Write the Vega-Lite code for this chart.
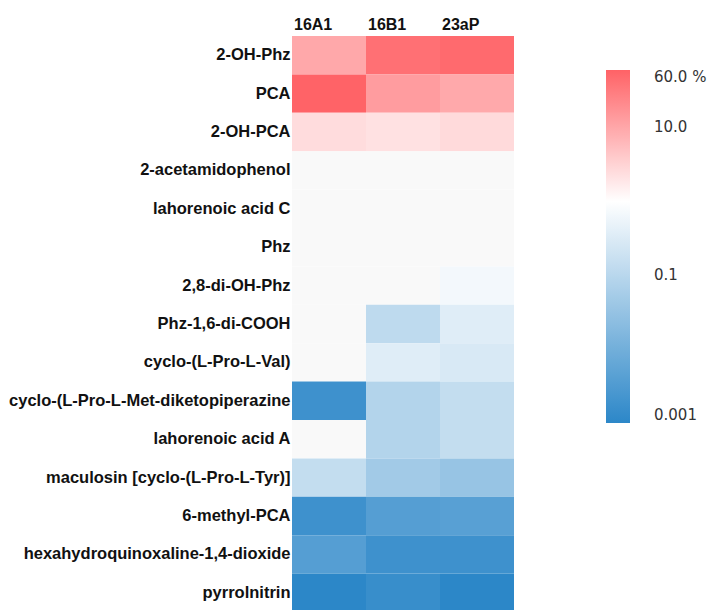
{
  "$schema": "https://vega.github.io/schema/vega-lite/v6.json",
  "autosize": {"type": "none"},
  "padding": {"left": 292, "top": 36, "right": 196, "bottom": 0},
  "width": 222,
  "height": 576,
  "background": "white",
  "data": {
    "values": [
      {"compound": "2-OH-Phz", "strain": "16A1", "pct": 9.67},
      {"compound": "2-OH-Phz", "strain": "16B1", "pct": 41.7},
      {"compound": "2-OH-Phz", "strain": "23aP", "pct": 48.7},
      {"compound": "PCA", "strain": "16A1", "pct": 58.5},
      {"compound": "PCA", "strain": "16B1", "pct": 13.2},
      {"compound": "PCA", "strain": "23aP", "pct": 9.5},
      {"compound": "2-OH-PCA", "strain": "16A1", "pct": 2.49},
      {"compound": "2-OH-PCA", "strain": "16B1", "pct": 2.19},
      {"compound": "2-OH-PCA", "strain": "23aP", "pct": 2.63},
      {"compound": "2-acetamidophenol", "strain": "16A1", "pct": 0},
      {"compound": "2-acetamidophenol", "strain": "16B1", "pct": 0},
      {"compound": "2-acetamidophenol", "strain": "23aP", "pct": 0},
      {"compound": "lahorenoic acid C", "strain": "16A1", "pct": 0},
      {"compound": "lahorenoic acid C", "strain": "16B1", "pct": 0},
      {"compound": "lahorenoic acid C", "strain": "23aP", "pct": 0},
      {"compound": "Phz", "strain": "16A1", "pct": 0},
      {"compound": "Phz", "strain": "16B1", "pct": 0},
      {"compound": "Phz", "strain": "23aP", "pct": 0},
      {"compound": "2,8-di-OH-Phz", "strain": "16A1", "pct": 0},
      {"compound": "2,8-di-OH-Phz", "strain": "16B1", "pct": 0},
      {"compound": "2,8-di-OH-Phz", "strain": "23aP", "pct": 0.675},
      {"compound": "Phz-1,6-di-COOH", "strain": "16A1", "pct": 0},
      {"compound": "Phz-1,6-di-COOH", "strain": "16B1", "pct": 0.119},
      {"compound": "Phz-1,6-di-COOH", "strain": "23aP", "pct": 0.35},
      {"compound": "cyclo-(L-Pro-L-Val)", "strain": "16A1", "pct": 0},
      {"compound": "cyclo-(L-Pro-L-Val)", "strain": "16B1", "pct": 0.35},
      {"compound": "cyclo-(L-Pro-L-Val)", "strain": "23aP", "pct": 0.279},
      {"compound": "cyclo-(L-Pro-L-Met-diketopiperazine", "strain": "16A1", "pct": 0.0018},
      {"compound": "cyclo-(L-Pro-L-Met-diketopiperazine", "strain": "16B1", "pct": 0.0832},
      {"compound": "cyclo-(L-Pro-L-Met-diketopiperazine", "strain": "23aP", "pct": 0.1406},
      {"compound": "lahorenoic acid A", "strain": "16A1", "pct": 0},
      {"compound": "lahorenoic acid A", "strain": "16B1", "pct": 0.0832},
      {"compound": "lahorenoic acid A", "strain": "23aP", "pct": 0.1406},
      {"compound": "maculosin [cyclo-(L-Pro-L-Tyr)]", "strain": "16A1", "pct": 0.1406},
      {"compound": "maculosin [cyclo-(L-Pro-L-Tyr)]", "strain": "16B1", "pct": 0.0475},
      {"compound": "maculosin [cyclo-(L-Pro-L-Tyr)]", "strain": "23aP", "pct": 0.0332},
      {"compound": "6-methyl-PCA", "strain": "16A1", "pct": 0.0018},
      {"compound": "6-methyl-PCA", "strain": "16B1", "pct": 0.00382},
      {"compound": "6-methyl-PCA", "strain": "23aP", "pct": 0.00424},
      {"compound": "hexahydroquinoxaline-1,4-dioxide", "strain": "16A1", "pct": 0.00382},
      {"compound": "hexahydroquinoxaline-1,4-dioxide", "strain": "16B1", "pct": 0.0018},
      {"compound": "hexahydroquinoxaline-1,4-dioxide", "strain": "23aP", "pct": 0.0018},
      {"compound": "pyrrolnitrin", "strain": "16A1", "pct": 0.001},
      {"compound": "pyrrolnitrin", "strain": "16B1", "pct": 0.00148},
      {"compound": "pyrrolnitrin", "strain": "23aP", "pct": 0.001}
    ]
  },
  "mark": {"type": "rect", "strokeWidth": 0},
  "encoding": {
    "x": {
      "field": "strain",
      "type": "nominal",
      "sort": null,
      "title": null,
      "axis": {
        "orient": "top",
        "domain": false,
        "ticks": false,
        "labelAngle": 0,
        "labelAlign": "left",
        "labelOffset": -35,
        "labelPadding": 4,
        "labelFont": "Liberation Sans",
        "labelFontWeight": "bold",
        "labelFontSize": 16,
        "labelColor": "#111111"
      }
    },
    "y": {
      "field": "compound",
      "type": "nominal",
      "sort": null,
      "title": null,
      "axis": {
        "domain": false,
        "ticks": false,
        "labelPadding": 2,
        "labelLimit": 400,
        "labelFont": "Liberation Sans",
        "labelFontWeight": "bold",
        "labelFontSize": 16.5,
        "labelColor": "#111111"
      }
    },
    "color": {
      "condition": {"test": "datum.pct === 0", "value": "#F9F9F9"},
      "field": "pct",
      "type": "quantitative",
      "scale": {
        "type": "log",
        "domain": [0.001, 1, 60],
        "range": ["#2C87C8", "#FFFFFF", "#FF6266"],
        "interpolate": "rgb",
        "clamp": true
      },
      "legend": {
        "orient": "none",
        "legendX": 314,
        "legendY": 34,
        "title": null,
        "direction": "vertical",
        "gradientLength": 353,
        "gradientThickness": 24,
        "gradientStrokeWidth": 0,
        "values": [0.001, 0.1, 10, 60],
        "labelExpr": "datum.value >= 60 ? '60.0 %' : datum.value >= 10 ? '10.0' : datum.value >= 0.1 ? '0.1' : '0.001'",
        "labelOverlap": false,
        "labelOffset": 24,
        "labelBaseline": "middle",
        "labelFont": "DejaVu Sans",
        "labelFontSize": 15,
        "labelColor": "#333333"
      }
    }
  },
  "config": {"view": {"stroke": null}}
}
